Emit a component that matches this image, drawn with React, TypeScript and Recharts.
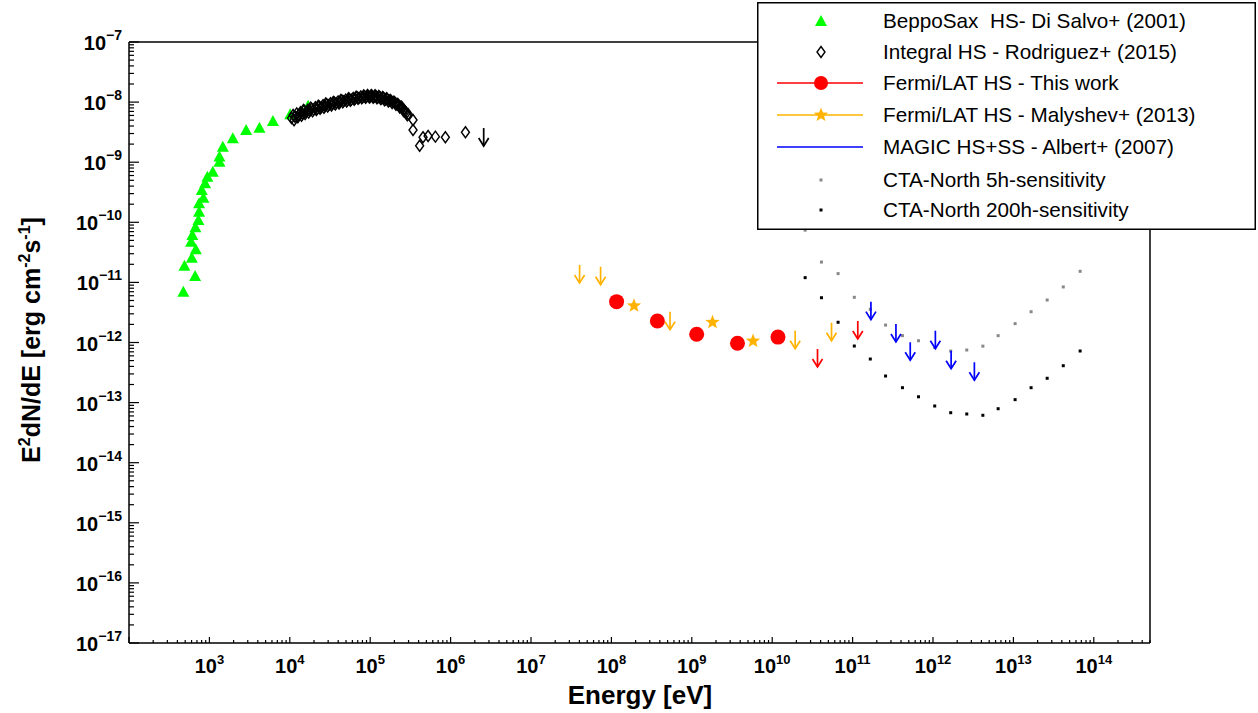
import React from "react";
import { Label, Legend, ReferenceLine, Scatter, ScatterChart, XAxis, YAxis } from "recharts";

type Pt = [number, number]; // [E (eV), E2 dN/dE (erg cm-2 s-1)]

const beppoSax: Pt[] = [
  [474, 7.0e-12], [664, 1.28e-11], [489, 1.9e-11], [604, 2.58e-11], [677, 3.56e-11],
  [592, 4.75e-11], [614, 6.15e-11], [670, 8.26e-11], [730, 1.09e-10], [744, 1.5e-10],
  [744, 2.07e-10], [842, 2.57e-10], [804, 3.44e-10], [884, 4.45e-10], [944, 5.74e-10],
  [1102, 6.95e-10], [1333, 1.02e-9], [1333, 1.24e-9], [1469, 1.81e-9], [1955, 2.5e-9],
  [2863, 3.43e-9], [4197, 3.75e-9], [6166, 4.85e-9], [10120, 6.27e-9], [16900, 8.7e-9],
];

const integral: Pt[] = [
  [10500, 5.4e-9], [11000, 6.1e-9], [11300, 5.0e-9], [11600, 5.7e-9], [12200, 6.5e-9],
  [12600, 5.6e-9], [12900, 6.1e-9], [13600, 6.8e-9], [14000, 5.9e-9], [14300, 6.4e-9],
  [14800, 7.4e-9], [15100, 7.2e-9], [15500, 6.3e-9], [15900, 6.8e-9], [16800, 7.5e-9],
  [17200, 6.7e-9], [17700, 7.2e-9], [18200, 8.1e-9], [18700, 7.8e-9], [19200, 7.0e-9],
  [19700, 7.5e-9], [20800, 8.2e-9], [21400, 7.4e-9], [22000, 7.8e-9], [22600, 8.7e-9],
  [23200, 8.5e-9], [23800, 7.7e-9], [24500, 8.2e-9], [25900, 8.9e-9], [26600, 8.0e-9],
  [27300, 8.6e-9], [28000, 9.5e-9], [28800, 9.2e-9], [29600, 8.4e-9], [30400, 8.9e-9],
  [32100, 9.6e-9], [33000, 8.8e-9], [33900, 9.3e-9], [34800, 1.01e-8], [35800, 9.9e-9],
  [36800, 9.1e-9], [37800, 9.6e-9], [39900, 1.03e-8], [41000, 9.5e-9], [42100, 1.0e-8],
  [43200, 1.09e-8], [44400, 1.07e-8], [45600, 9.9e-9], [46900, 1.04e-8], [49500, 1.1e-8],
  [50900, 1.02e-8], [52300, 1.07e-8], [53700, 1.16e-8], [55200, 1.13e-8], [56700, 1.05e-8],
  [58300, 1.1e-8], [61500, 1.17e-8], [63200, 1.09e-8], [65000, 1.14e-8], [66800, 1.23e-8],
  [68600, 1.21e-8], [70500, 1.13e-8], [72400, 1.17e-8], [76400, 1.24e-8], [78500, 1.16e-8],
  [80700, 1.2e-8], [82900, 1.29e-8], [85200, 1.26e-8], [87600, 1.18e-8], [90000, 1.22e-8],
  [92500, 1.31e-8], [95000, 1.27e-8], [97600, 1.19e-8], [100300, 1.23e-8], [103100, 1.31e-8],
  [105900, 1.27e-8], [108800, 1.18e-8], [111800, 1.22e-8], [114900, 1.3e-8], [118000, 1.25e-8],
  [121300, 1.16e-8], [124600, 1.19e-8], [128000, 1.27e-8], [131600, 1.22e-8], [135200, 1.12e-8],
  [138900, 1.15e-8], [142700, 1.22e-8], [146700, 1.18e-8], [150700, 1.07e-8], [154900, 1.1e-8],
  [159200, 1.16e-8], [163500, 1.13e-8], [168000, 1.02e-8], [172700, 1.06e-8], [177400, 1.09e-8],
  [182300, 1.05e-8], [187300, 9.6e-9], [192500, 1.01e-8], [197800, 1.02e-8], [203200, 9.8e-9],
  [208800, 9.0e-9], [214600, 9.3e-9], [220500, 9.3e-9], [226600, 8.9e-9], [232800, 8.1e-9],
  [239200, 8.4e-9], [245800, 8.4e-9], [252600, 7.9e-9], [259600, 7.1e-9], [266700, 7.3e-9],
  [274000, 7.0e-9], [281600, 6.6e-9], [289300, 6.0e-9], [297300, 6.3e-9],
  [341000, 5.03e-9], [341000, 3.43e-9], [412000, 1.88e-9], [454000, 2.6e-9], [525000, 2.73e-9],
  [647000, 2.66e-9], [861000, 2.6e-9], [1530000, 3.15e-9],
];
const integralUL: Pt[] = [[2580000, 3.7e-9]];

const fermiThisWork: Pt[] = [
  [1.16e8, 4.78e-12], [3.73e8, 2.28e-12], [1.15e9, 1.37e-12], [3.7e9, 9.7e-13], [1.18e10, 1.23e-12],
];
const fermiThisWorkUL: Pt[] = [[3.66e10, 7.8e-13], [1.16e11, 2.28e-12]];

const malyshev: Pt[] = [[1.91e8, 4.09e-12], [1.81e9, 2.17e-12], [5.78e9, 1.06e-12]];
const malyshevUL: Pt[] = [
  [4.02e7, 1.95e-11], [7.34e7, 1.82e-11], [5.36e8, 3.25e-12], [1.93e10, 1.57e-12], [5.47e10, 2.13e-12],
];

const magicUL: Pt[] = [
  [1.69e11, 4.78e-12], [3.46e11, 2.03e-12], [5.21e11, 1.01e-12], [1.07e12, 1.57e-12],
  [1.68e12, 7.31e-13], [3.27e12, 4.69e-13],
];

const ctaE = [
  2.57e10, 4.1e10, 6.6e10, 1.05e11, 1.66e11, 2.57e11, 4.17e11, 6.6e11, 1.05e12,
  1.66e12, 2.63e12, 4.17e12, 6.46e12, 1.05e13, 1.66e13, 2.63e13, 4.17e13, 6.76e13,
];
const cta5h = [
  7.4e-11, 2.18e-11, 1.4e-11, 5.65e-12, 3.57e-12, 1.95e-12, 1.3e-12, 1.07e-12, 8.3e-13,
  7.2e-13, 7.5e-13, 8.7e-13, 1.3e-12, 2.06e-12, 3.25e-12, 5.09e-12, 8.4e-12, 1.53e-11,
];
const cta200h = [
  1.2e-11, 5.56e-12, 2.17e-12, 8.74e-13, 5.31e-13, 2.77e-13, 1.77e-13, 1.25e-13, 8.78e-14,
  6.79e-14, 6.46e-14, 6.15e-14, 7.91e-14, 1.12e-13, 1.77e-13, 2.54e-13, 4.11e-13, 7.22e-13,
];

const legendLabels = [
  "BeppoSax  HS- Di Salvo+ (2001)",
  "Integral HS - Rodriguez+ (2015)",
  "Fermi/LAT HS - This work",
  "Fermi/LAT HS - Malyshev+ (2013)",
  "MAGIC HS+SS - Albert+ (2007)",
  "CTA-North 5h-sensitivity",
  "CTA-North 200h-sensitivity",
];

const FONT = "'Liberation Sans', Arial, Helvetica, sans-serif";
const ORANGE = "#ffb300";

// log ticks: majors at decades, minors at 2..9
const logTicks = (lo: number, hi: number, max: number) => {
  const t: number[] = [];
  for (let e = lo; e <= hi; e++) {
    for (let m = 1; m <= 9; m++) {
      const v = m * Math.pow(10, e);
      if (v <= max * 1.0001) t.push(v);
    }
  }
  return t;
};
const xTicks = logTicks(2, 14, 5e14);
const yTicks = logTicks(-17, -7, 1e-7);

const isMajor = (v: number) => {
  const l = Math.log10(v);
  return Math.abs(l - Math.round(l)) < 1e-6;
};

const XTick = (props: any) => {
  const { x, y, payload } = props;
  const v = payload.value;
  const major = isMajor(v);
  const exp = Math.round(Math.log10(v));
  return (
    <g>
      <line x1={x} x2={x} y1={y} y2={y - (major ? 6 : 3)} stroke="#000" strokeWidth={1.2} />
      {major && exp >= 3 && (
        <text x={x} y={y + 30} textAnchor="middle" fontFamily={FONT} fontWeight="bold" fontSize={20} fill="#000">
          10<tspan dy={-9} fontSize={13}>{exp}</tspan>
        </text>
      )}
    </g>
  );
};

const YTick = (props: any) => {
  const { x, y, payload } = props;
  const v = payload.value;
  const major = isMajor(v);
  const exp = Math.round(Math.log10(v));
  return (
    <g>
      <line x1={x} x2={x + (major ? 10 : 5)} y1={y} y2={y} stroke="#000" strokeWidth={1.2} />
      {major && (
        <text x={x - 7} y={y + 8} textAnchor="end" fontFamily={FONT} fontWeight="bold" fontSize={20} fill="#000">
          10<tspan dy={-10} fontSize={14}>{"\u2212" + Math.abs(exp)}</tspan>
        </text>
      )}
    </g>
  );
};

const triangle = (cx: number, cy: number) => (
  <polygon points={`${cx},${cy - 6} ${cx - 6},${cy + 5} ${cx + 6},${cy + 5}`} fill="#00ff00" />
);
const diamond = (cx: number, cy: number) => (
  <polygon
    points={`${cx},${cy - 5.5} ${cx + 4},${cy} ${cx},${cy + 5.5} ${cx - 4},${cy}`}
    fill="none"
    stroke="#000"
    strokeWidth={1.4}
  />
);
const star = (cx: number, cy: number) => {
  const pts: string[] = [];
  for (let i = 0; i < 10; i++) {
    const r = i % 2 === 0 ? 7.5 : 3.2;
    const a = -Math.PI / 2 + (i * Math.PI) / 5;
    pts.push(`${cx + r * Math.cos(a)},${cy + r * Math.sin(a)}`);
  }
  return <polygon points={pts.join(" ")} fill={ORANGE} />;
};
const square = (cx: number, cy: number, color: string) => (
  <rect x={cx - 1.5} y={cy - 1.5} width={3} height={3} fill={color} />
);
const arrow = (cx: number, cy: number, color: string) => (
  <g stroke={color} strokeWidth={1.7} fill="none">
    <line x1={cx} y1={cy} x2={cx} y2={cy + 18} />
    <polyline points={`${cx - 5},${cy + 10} ${cx},${cy + 18} ${cx + 5},${cy + 10}`} />
  </g>
);

const toPts = (arr: Pt[]) => arr.map(([x, y]) => ({ x, y }));
const ctaPts = (vals: number[]) => ctaE.map((x, i) => ({ x, y: vals[i] }));

const LegendBox = () => {
  const rows = [19, 50, 81, 113, 145, 178, 208];
  const mx = 64;
  return (
    <svg width={499} height={228} style={{ display: "block" }}>
      <rect x={0.75} y={0.75} width={497.5} height={226.5} fill="#fff" stroke="#000" strokeWidth={1.5} />
      {triangle(mx, rows[0])}
      {diamond(mx, rows[1])}
      <line x1={20} x2={106} y1={rows[2]} y2={rows[2]} stroke="#ff0000" strokeWidth={1.3} />
      <circle cx={mx} cy={rows[2]} r={7} fill="#ff0000" />
      <line x1={20} x2={106} y1={rows[3]} y2={rows[3]} stroke={ORANGE} strokeWidth={1.3} />
      {star(mx, rows[3])}
      <line x1={20} x2={106} y1={rows[4]} y2={rows[4]} stroke="#0000ff" strokeWidth={1.3} />
      {square(mx, rows[5], "#888")}
      {square(mx, rows[6], "#000")}
      {legendLabels.map((t, i) => (
        <text key={t} x={126} y={rows[i] + 7} fontFamily={FONT} fontSize={20.7} fill="#000" style={{ whiteSpace: "pre" }}>
          {t}
        </text>
      ))}
    </svg>
  );
};

export default function App(): React.ReactElement {
  return (
    <div style={{ position: "absolute", left: 0, top: 0, width: 1258, height: 713, background: "#fff" }}>
      <ScatterChart width={1258} height={713} margin={{ top: 42, right: 108, bottom: 0, left: 0 }}>
        <XAxis
          type="number"
          dataKey="x"
          scale="log"
          domain={[1e2, 5e14]}
          allowDataOverflow
          ticks={xTicks}
          interval={0}
          tick={XTick}
          tickLine={false}
          tickSize={0}
          tickMargin={0}
          height={70}
          axisLine={{ stroke: "#000", strokeWidth: 1.5 }}
        >
          <Label
            content={() => (
              <text x={640} y={704} textAnchor="middle" fontFamily={FONT} fontWeight="bold" fontSize={26} fill="#000">
                Energy [eV]
              </text>
            )}
          />
        </XAxis>
        <YAxis
          type="number"
          dataKey="y"
          scale="log"
          domain={[1e-17, 1e-7]}
          allowDataOverflow
          ticks={yTicks}
          interval={0}
          tick={YTick}
          tickLine={false}
          tickSize={0}
          tickMargin={0}
          width={129}
          axisLine={{ stroke: "#000", strokeWidth: 1.5 }}
        >
          <Label
            content={() => (
              <text
                transform="translate(40,340) rotate(-90)"
                textAnchor="middle"
                fontFamily={FONT}
                fontWeight="bold"
                fontSize={25}
                fill="#000"
              >
                E<tspan dy={-10} fontSize={16}>2</tspan>
                <tspan dy={10}>dN/dE [erg cm</tspan>
                <tspan dy={-10} fontSize={16}>-2</tspan>
                <tspan dy={10}>s</tspan>
                <tspan dy={-10} fontSize={16}>-1</tspan>
                <tspan dy={10}>]</tspan>
              </text>
            )}
          />
        </YAxis>
        <ReferenceLine y={1e-7} stroke="#000" strokeWidth={1.5} />
        <ReferenceLine x={5e14} stroke="#000" strokeWidth={1.5} />

        <Scatter data={ctaPts(cta5h)} isAnimationActive={false} shape={(p: any) => square(p.cx, p.cy, "#888")} />
        <Scatter data={ctaPts(cta200h)} isAnimationActive={false} shape={(p: any) => square(p.cx, p.cy, "#000")} />
        <Scatter data={toPts(beppoSax)} isAnimationActive={false} shape={(p: any) => triangle(p.cx, p.cy)} />
        <Scatter data={toPts(integral)} isAnimationActive={false} shape={(p: any) => diamond(p.cx, p.cy)} />
        <Scatter data={toPts(integralUL)} isAnimationActive={false} shape={(p: any) => arrow(p.cx, p.cy, "#000")} />
        <Scatter data={toPts(malyshevUL)} isAnimationActive={false} shape={(p: any) => arrow(p.cx, p.cy, ORANGE)} />
        <Scatter data={toPts(fermiThisWorkUL)} isAnimationActive={false} shape={(p: any) => arrow(p.cx, p.cy, "#ff0000")} />
        <Scatter data={toPts(magicUL)} isAnimationActive={false} shape={(p: any) => arrow(p.cx, p.cy, "#0000ff")} />
        <Scatter
          data={toPts(fermiThisWork)}
          isAnimationActive={false}
          shape={(p: any) => <circle cx={p.cx} cy={p.cy} r={7.5} fill="#ff0000" />}
        />
        <Scatter data={toPts(malyshev)} isAnimationActive={false} shape={(p: any) => star(p.cx, p.cy)} />

        <Legend
          layout="horizontal"
          verticalAlign="middle"
          align="center"
          wrapperStyle={{ left: 757, top: 2, width: 499, height: 228 }}
          content={LegendBox}
        />
      </ScatterChart>
    </div>
  );
}
